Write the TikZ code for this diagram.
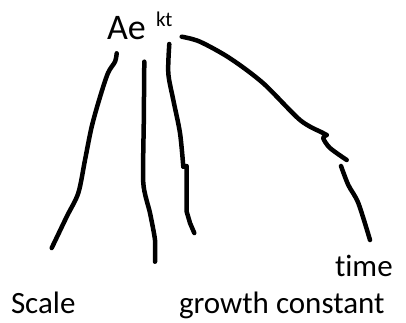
\documentclass[tikz,border=0pt]{standalone}
\usepackage{fontspec}
\setmainfont{Carlito}[Ligatures=NoCommon]
\begin{document}
\begin{tikzpicture}[x=1pt,y=-1pt,
  ink/.style={line width=4.5pt,line cap=round,line join=round},
  lbl/.style={anchor=base west,inner sep=0pt,outer sep=0pt}]
\useasboundingbox (0,0) rectangle (406,322);
\node[lbl,font=\fontsize{36}{40}\selectfont] (ae) at (107,39.3) {Ae};
\node[lbl,font=\fontsize{21}{24}\selectfont] (kt) at (156,26.5) {kt};
\node[lbl,font=\fontsize{31}{36}\selectfont] (scale) at (11,313) {Scale};
\node[lbl,font=\fontsize{31}{36}\selectfont] (growth) at (179,313) {growth constant};
\node[lbl,font=\fontsize{31}{36}\selectfont] (time) at (335,276) {time};
% stroke to Scale
\draw[ink] plot[smooth,tension=0.5] coordinates {(116.7,53.3) (115,61.7) (108,73) (100,97) (91.7,126.7) (85,160) (78.3,193) (66.7,216.7) (51.7,248)};
% middle stroke
\draw[ink] plot[smooth,tension=0.4] coordinates {(144.3,61.7) (143.8,120) (143.3,183.3) (150,213) (155,240) (155,261.7)};
% stroke to growth constant
\draw[ink] plot[smooth,tension=0.5] coordinates {(169.3,44) (168.3,73.3) (173.3,100) (180,133) (183.3,166.7)};
\draw[ink] (183.3,166.7) -- (186.7,166) -- (186.7,211.7) -- (190,223) -- (194.3,233);
% stroke to time
\draw[ink] plot[smooth,tension=0.5] coordinates {(181.7,36.7) (200,41.7) (230,58.3) (263.3,83.3) (300,120) (323,133) (326.7,135)};
\draw[ink] plot[smooth,tension=0.5] coordinates {(326.7,135) (323.3,138.3) (330,148) (346.7,160)};
\draw[ink] plot[smooth,tension=0.5] coordinates {(341,166) (348.3,185) (358.3,203) (370,240)};
\end{tikzpicture}
\end{document}
